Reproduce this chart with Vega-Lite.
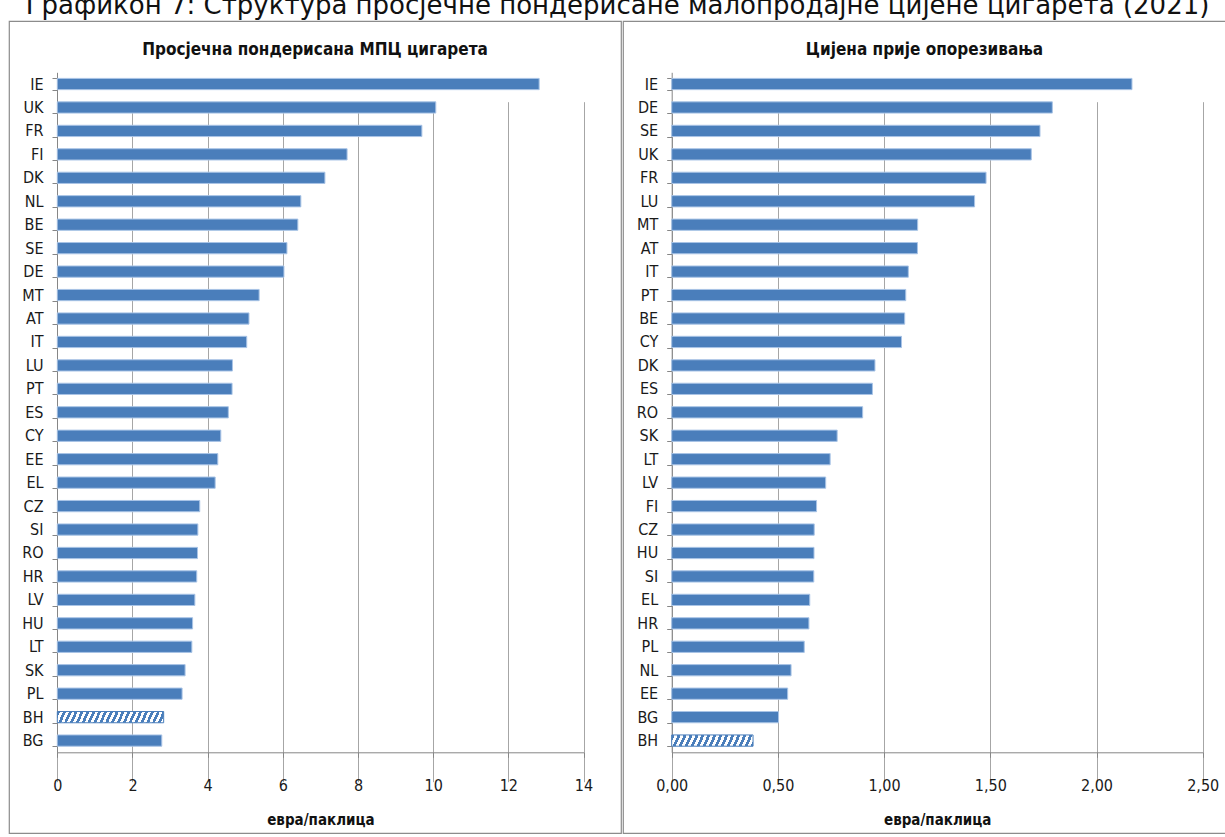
{
  "$schema": "https://vega.github.io/schema/vega-lite/v6.json",
  "background": "white",
  "padding": {"left": 8, "top": -7, "right": 0, "bottom": 0},
  "title": {"text": "Графикон 7: Структура просјечне пондерисане малопродајне цијене цигарета (2021)", "font": "DejaVu Sans", "fontSize": 26, "fontWeight": "normal", "color": "#111111", "anchor": "middle", "offset": -7},
  "datasets": {
    "mpc": [
      {"country": "IE", "value": 12.82}, {"country": "UK", "value": 10.07}, {"country": "FR", "value": 9.70},
      {"country": "FI", "value": 7.71}, {"country": "DK", "value": 7.12}, {"country": "NL", "value": 6.48},
      {"country": "BE", "value": 6.40}, {"country": "SE", "value": 6.11}, {"country": "DE", "value": 6.03},
      {"country": "MT", "value": 5.37}, {"country": "AT", "value": 5.10}, {"country": "IT", "value": 5.04},
      {"country": "LU", "value": 4.66}, {"country": "PT", "value": 4.65}, {"country": "ES", "value": 4.55},
      {"country": "CY", "value": 4.35}, {"country": "EE", "value": 4.27}, {"country": "EL", "value": 4.20},
      {"country": "CZ", "value": 3.79}, {"country": "SI", "value": 3.74}, {"country": "RO", "value": 3.73},
      {"country": "HR", "value": 3.71}, {"country": "LV", "value": 3.66}, {"country": "HU", "value": 3.60},
      {"country": "LT", "value": 3.58}, {"country": "SK", "value": 3.40}, {"country": "PL", "value": 3.32},
      {"country": "BH", "value": 2.83}, {"country": "BG", "value": 2.78}
    ],
    "pre": [
      {"country": "IE", "value": 2.167}, {"country": "DE", "value": 1.792}, {"country": "SE", "value": 1.734},
      {"country": "UK", "value": 1.693}, {"country": "FR", "value": 1.480}, {"country": "LU", "value": 1.426},
      {"country": "MT", "value": 1.158}, {"country": "AT", "value": 1.157}, {"country": "IT", "value": 1.114},
      {"country": "PT", "value": 1.102}, {"country": "BE", "value": 1.097}, {"country": "CY", "value": 1.082},
      {"country": "DK", "value": 0.957}, {"country": "ES", "value": 0.945}, {"country": "RO", "value": 0.899},
      {"country": "SK", "value": 0.779}, {"country": "LT", "value": 0.746}, {"country": "LV", "value": 0.725},
      {"country": "FI", "value": 0.682}, {"country": "CZ", "value": 0.671}, {"country": "HU", "value": 0.670},
      {"country": "SI", "value": 0.669}, {"country": "EL", "value": 0.650}, {"country": "HR", "value": 0.646},
      {"country": "PL", "value": 0.624}, {"country": "NL", "value": 0.562}, {"country": "EE", "value": 0.546},
      {"country": "BG", "value": 0.503}, {"country": "BH", "value": 0.383}
    ]
  },
  "spacing": 0,
  "hconcat": [
    {
      "width": 612,
      "height": 812,
      "view": {"stroke": "#8c8c8c", "strokeWidth": 1.2},
      "title": {"text": "Просјечна пондерисана МПЦ цигарета", "offset": -46},
      "data": {"name": "mpc"},
      "mark": {"type": "bar"},
      "encoding": {
        "y": {"field": "country", "type": "nominal", "sort": "-x",
          "scale": {"range": [51.3, 731.3], "paddingInner": 0.52, "paddingOuter": 0.26},
          "axis": {"title": null, "offset": -48}},
        "x": {"field": "value", "type": "quantitative",
          "scale": {"domain": [0, 14], "nice": false, "range": [48.3, 574.5]},
          "axis": {"values": [0, 2, 4, 6, 8, 10, 12, 14], "title": "евра/паклица", "offset": -80.7}},
        "fill": {"condition": {"test": "datum.country === 'BH'", "value": {"gradient": "linear", "x1": 0, "y1": 0, "x2": 1.1, "y2": 0.052, "stops": [
          {"offset": 0.000, "color": "#4a7ebb"}, {"offset": 0.025, "color": "#4a7ebb"}, {"offset": 0.025, "color": "#ffffff"}, {"offset": 0.050, "color": "#ffffff"},
          {"offset": 0.050, "color": "#4a7ebb"}, {"offset": 0.075, "color": "#4a7ebb"}, {"offset": 0.075, "color": "#ffffff"}, {"offset": 0.100, "color": "#ffffff"},
          {"offset": 0.100, "color": "#4a7ebb"}, {"offset": 0.125, "color": "#4a7ebb"}, {"offset": 0.125, "color": "#ffffff"}, {"offset": 0.150, "color": "#ffffff"},
          {"offset": 0.150, "color": "#4a7ebb"}, {"offset": 0.175, "color": "#4a7ebb"}, {"offset": 0.175, "color": "#ffffff"}, {"offset": 0.200, "color": "#ffffff"},
          {"offset": 0.200, "color": "#4a7ebb"}, {"offset": 0.225, "color": "#4a7ebb"}, {"offset": 0.225, "color": "#ffffff"}, {"offset": 0.250, "color": "#ffffff"},
          {"offset": 0.250, "color": "#4a7ebb"}, {"offset": 0.275, "color": "#4a7ebb"}, {"offset": 0.275, "color": "#ffffff"}, {"offset": 0.300, "color": "#ffffff"},
          {"offset": 0.300, "color": "#4a7ebb"}, {"offset": 0.325, "color": "#4a7ebb"}, {"offset": 0.325, "color": "#ffffff"}, {"offset": 0.350, "color": "#ffffff"},
          {"offset": 0.350, "color": "#4a7ebb"}, {"offset": 0.375, "color": "#4a7ebb"}, {"offset": 0.375, "color": "#ffffff"}, {"offset": 0.400, "color": "#ffffff"},
          {"offset": 0.400, "color": "#4a7ebb"}, {"offset": 0.425, "color": "#4a7ebb"}, {"offset": 0.425, "color": "#ffffff"}, {"offset": 0.450, "color": "#ffffff"},
          {"offset": 0.450, "color": "#4a7ebb"}, {"offset": 0.475, "color": "#4a7ebb"}, {"offset": 0.475, "color": "#ffffff"}, {"offset": 0.500, "color": "#ffffff"},
          {"offset": 0.500, "color": "#4a7ebb"}, {"offset": 0.525, "color": "#4a7ebb"}, {"offset": 0.525, "color": "#ffffff"}, {"offset": 0.550, "color": "#ffffff"},
          {"offset": 0.550, "color": "#4a7ebb"}, {"offset": 0.575, "color": "#4a7ebb"}, {"offset": 0.575, "color": "#ffffff"}, {"offset": 0.600, "color": "#ffffff"},
          {"offset": 0.600, "color": "#4a7ebb"}, {"offset": 0.625, "color": "#4a7ebb"}, {"offset": 0.625, "color": "#ffffff"}, {"offset": 0.650, "color": "#ffffff"},
          {"offset": 0.650, "color": "#4a7ebb"}, {"offset": 0.675, "color": "#4a7ebb"}, {"offset": 0.675, "color": "#ffffff"}, {"offset": 0.700, "color": "#ffffff"},
          {"offset": 0.700, "color": "#4a7ebb"}, {"offset": 0.725, "color": "#4a7ebb"}, {"offset": 0.725, "color": "#ffffff"}, {"offset": 0.750, "color": "#ffffff"},
          {"offset": 0.750, "color": "#4a7ebb"}, {"offset": 0.775, "color": "#4a7ebb"}, {"offset": 0.775, "color": "#ffffff"}, {"offset": 0.800, "color": "#ffffff"},
          {"offset": 0.800, "color": "#4a7ebb"}, {"offset": 0.825, "color": "#4a7ebb"}, {"offset": 0.825, "color": "#ffffff"}, {"offset": 0.850, "color": "#ffffff"},
          {"offset": 0.850, "color": "#4a7ebb"}, {"offset": 0.875, "color": "#4a7ebb"}, {"offset": 0.875, "color": "#ffffff"}, {"offset": 0.900, "color": "#ffffff"},
          {"offset": 0.900, "color": "#4a7ebb"}, {"offset": 0.925, "color": "#4a7ebb"}, {"offset": 0.925, "color": "#ffffff"}, {"offset": 0.950, "color": "#ffffff"},
          {"offset": 0.950, "color": "#4a7ebb"}, {"offset": 0.975, "color": "#4a7ebb"}, {"offset": 0.975, "color": "#ffffff"}, {"offset": 1.000, "color": "#ffffff"}
        ]}}, "value": "#4a7ebb"},
        "stroke": {"condition": {"test": "datum.country === 'BH'", "value": "#4a7ebb"}, "value": "#a9c4e6"}
      }
    },
    {
      "width": 603,
      "height": 812,
      "view": {"stroke": "#8c8c8c", "strokeWidth": 1.2},
      "title": {"text": "Цијена прије опорезивања", "offset": -46},
      "data": {"name": "pre"},
      "mark": {"type": "bar"},
      "encoding": {
        "y": {"field": "country", "type": "nominal", "sort": "-x",
          "scale": {"range": [51.3, 731.3], "paddingInner": 0.52, "paddingOuter": 0.26},
          "axis": {"title": null, "offset": -48.7}},
        "x": {"field": "value", "type": "quantitative",
          "scale": {"domain": [0, 2.5], "nice": false, "range": [48.7, 579.7]},
          "axis": {"values": [0, 0.5, 1, 1.5, 2, 2.5], "labelExpr": "replace(format(datum.value, '.2f'), '.', ',')", "title": "евра/паклица", "offset": -80.7}},
        "fill": {"condition": {"test": "datum.country === 'BH'", "value": {"gradient": "linear", "x1": 0, "y1": 0, "x2": 1.1, "y2": 0.068, "stops": [
          {"offset": 0.0000, "color": "#4a7ebb"}, {"offset": 0.0333, "color": "#4a7ebb"}, {"offset": 0.0333, "color": "#ffffff"}, {"offset": 0.0667, "color": "#ffffff"},
          {"offset": 0.0667, "color": "#4a7ebb"}, {"offset": 0.1000, "color": "#4a7ebb"}, {"offset": 0.1000, "color": "#ffffff"}, {"offset": 0.1333, "color": "#ffffff"},
          {"offset": 0.1333, "color": "#4a7ebb"}, {"offset": 0.1667, "color": "#4a7ebb"}, {"offset": 0.1667, "color": "#ffffff"}, {"offset": 0.2000, "color": "#ffffff"},
          {"offset": 0.2000, "color": "#4a7ebb"}, {"offset": 0.2333, "color": "#4a7ebb"}, {"offset": 0.2333, "color": "#ffffff"}, {"offset": 0.2667, "color": "#ffffff"},
          {"offset": 0.2667, "color": "#4a7ebb"}, {"offset": 0.3000, "color": "#4a7ebb"}, {"offset": 0.3000, "color": "#ffffff"}, {"offset": 0.3333, "color": "#ffffff"},
          {"offset": 0.3333, "color": "#4a7ebb"}, {"offset": 0.3667, "color": "#4a7ebb"}, {"offset": 0.3667, "color": "#ffffff"}, {"offset": 0.4000, "color": "#ffffff"},
          {"offset": 0.4000, "color": "#4a7ebb"}, {"offset": 0.4333, "color": "#4a7ebb"}, {"offset": 0.4333, "color": "#ffffff"}, {"offset": 0.4667, "color": "#ffffff"},
          {"offset": 0.4667, "color": "#4a7ebb"}, {"offset": 0.5000, "color": "#4a7ebb"}, {"offset": 0.5000, "color": "#ffffff"}, {"offset": 0.5333, "color": "#ffffff"},
          {"offset": 0.5333, "color": "#4a7ebb"}, {"offset": 0.5667, "color": "#4a7ebb"}, {"offset": 0.5667, "color": "#ffffff"}, {"offset": 0.6000, "color": "#ffffff"},
          {"offset": 0.6000, "color": "#4a7ebb"}, {"offset": 0.6333, "color": "#4a7ebb"}, {"offset": 0.6333, "color": "#ffffff"}, {"offset": 0.6667, "color": "#ffffff"},
          {"offset": 0.6667, "color": "#4a7ebb"}, {"offset": 0.7000, "color": "#4a7ebb"}, {"offset": 0.7000, "color": "#ffffff"}, {"offset": 0.7333, "color": "#ffffff"},
          {"offset": 0.7333, "color": "#4a7ebb"}, {"offset": 0.7667, "color": "#4a7ebb"}, {"offset": 0.7667, "color": "#ffffff"}, {"offset": 0.8000, "color": "#ffffff"},
          {"offset": 0.8000, "color": "#4a7ebb"}, {"offset": 0.8333, "color": "#4a7ebb"}, {"offset": 0.8333, "color": "#ffffff"}, {"offset": 0.8667, "color": "#ffffff"},
          {"offset": 0.8667, "color": "#4a7ebb"}, {"offset": 0.9000, "color": "#4a7ebb"}, {"offset": 0.9000, "color": "#ffffff"}, {"offset": 0.9333, "color": "#ffffff"},
          {"offset": 0.9333, "color": "#4a7ebb"}, {"offset": 0.9667, "color": "#4a7ebb"}, {"offset": 0.9667, "color": "#ffffff"}, {"offset": 1.0000, "color": "#ffffff"}
        ]}}, "value": "#4a7ebb"},
        "stroke": {"condition": {"test": "datum.country === 'BH'", "value": "#4a7ebb"}, "value": "#a9c4e6"}
      }
    }
  ],
  "config": {
    "font": "DejaVu Sans Condensed, Roboto Condensed, Liberation Sans Narrow, Roboto",
    "title": {"font": "DejaVu Sans Condensed, Roboto Condensed, Liberation Sans Narrow, Roboto", "fontSize": 17, "fontWeight": "bold", "color": "#111111", "anchor": "middle"},
    "bar": {"strokeWidth": 1},
    "axis": {
      "labelFont": "DejaVu Sans Condensed, Roboto Condensed, Liberation Sans Narrow, Roboto",
      "titleFont": "DejaVu Sans Condensed, Roboto Condensed, Liberation Sans Narrow, Roboto",
      "labelColor": "#1a1a1a",
      "titleColor": "#111111",
      "domainColor": "#868686",
      "tickColor": "#868686",
      "gridColor": "#a6a6a6",
      "labelOverlap": false,
      "labelBound": false
    },
    "axisY": {"labelFontSize": 16, "labelPadding": 9, "tickSize": 5, "tickBand": "extent", "grid": false, "domainWidth": 1},
    "axisX": {"labelFontSize": 16, "labelPadding": 20, "tickSize": 5, "grid": true, "labelFlush": false, "titleFontSize": 15, "titleFontWeight": "bold", "titlePadding": 19}
  }
}
